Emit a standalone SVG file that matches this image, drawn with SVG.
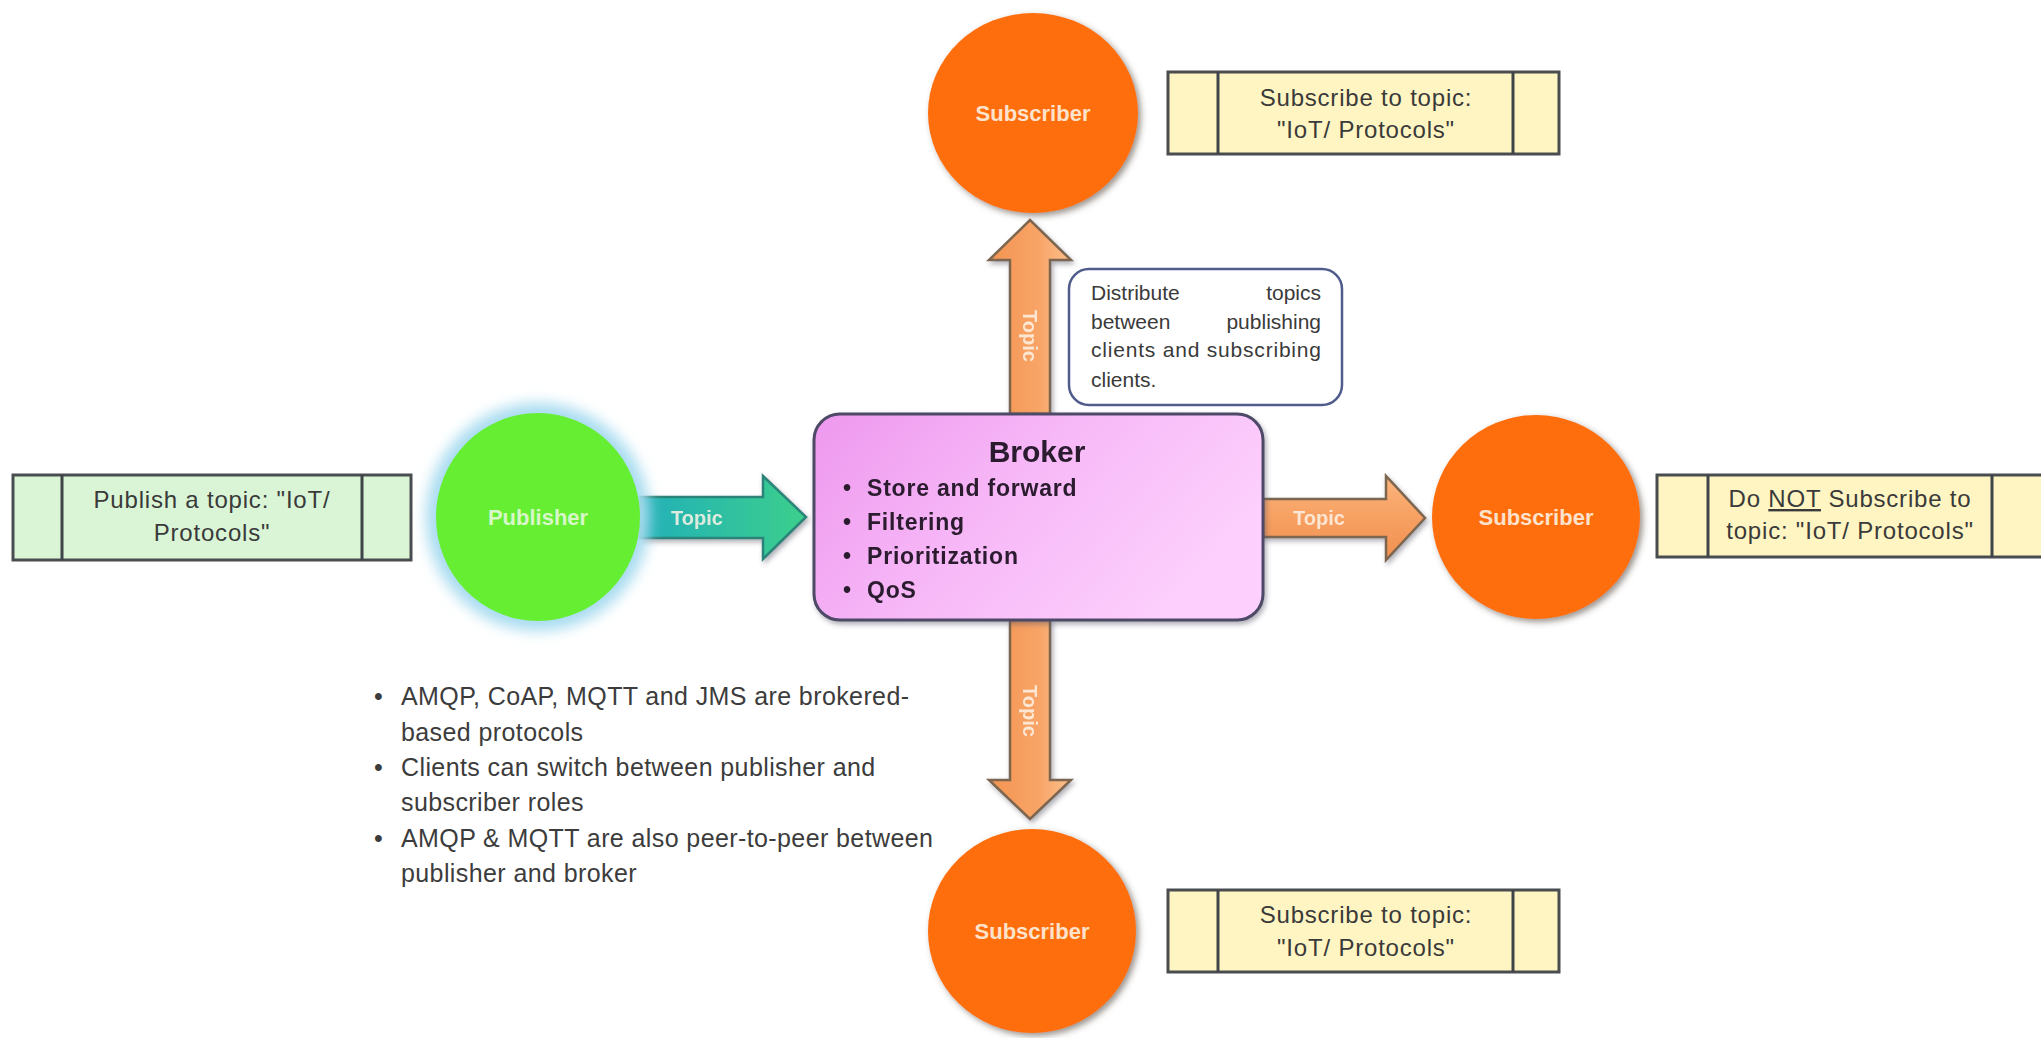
<svg xmlns="http://www.w3.org/2000/svg" width="2041" height="1038" viewBox="0 0 2041 1038">
  <defs>
    <style>
      .box { stroke: #4a4d4f; stroke-width: 3; }
      .green-box { fill: #d9f5d6; }
      .yellow-box { fill: #fff5c2; }
      .divider { stroke: #3f4448; stroke-width: 3; }
      .boxtxt { font-family: "Liberation Sans", Arial, sans-serif; font-size: 24px; letter-spacing: 0.8px; fill: #3a3a3a; text-anchor: middle; }
      .circle-label { font-family: "Liberation Sans", Arial, sans-serif; font-weight: bold; font-size: 22px; text-anchor: middle; }
      .arrow-label { font-family: "Liberation Sans", Arial, sans-serif; font-weight: bold; font-size: 20px; fill: #fdf3e8; fill-opacity: 0.85; text-anchor: middle; }
      .orange-arrow { stroke: #7d6650; stroke-width: 2.5; stroke-linejoin: miter; }
      .broker-item { font-family: "Liberation Sans", Arial, sans-serif; font-weight: bold; font-size: 23px; letter-spacing: 0.8px; fill: #2a1a2e; }
      .note { font-family: "Liberation Sans", Arial, sans-serif; font-size: 21px; fill: #3a3a3a; }
      .list { font-family: "Liberation Sans", Arial, sans-serif; font-size: 25px; letter-spacing: 0.4px; fill: #3c3c3c; }
    </style>
    <linearGradient id="brokerFill" x1="0" y1="0" x2="1" y2="0.4">
      <stop offset="0" stop-color="#ee98ee"/>
      <stop offset="0.5" stop-color="#f7b8f7"/>
      <stop offset="1" stop-color="#fccffc"/>
    </linearGradient>
    <linearGradient id="tealFill" x1="0" y1="0" x2="1" y2="0">
      <stop offset="0" stop-color="#22b0b8"/>
      <stop offset="1" stop-color="#3ccf8c"/>
    </linearGradient>
    <linearGradient id="orangeH" x1="0" y1="0" x2="0" y2="1">
      <stop offset="0" stop-color="#fbb57c"/>
      <stop offset="0.5" stop-color="#f7a062"/>
      <stop offset="1" stop-color="#f0904f"/>
    </linearGradient>
    <linearGradient id="orangeV" x1="0" y1="0" x2="1" y2="0">
      <stop offset="0" stop-color="#f39452"/>
      <stop offset="0.6" stop-color="#f8a466"/>
      <stop offset="1" stop-color="#fcc08c"/>
    </linearGradient>
    <filter id="glow" x="-30%" y="-30%" width="160%" height="160%">
      <feGaussianBlur stdDeviation="7"/>
    </filter>
    <filter id="shadow" x="-20%" y="-20%" width="140%" height="140%">
      <feDropShadow dx="3" dy="3" stdDeviation="3" flood-color="#4a3a30" flood-opacity="0.55"/>
    </filter>
    <filter id="softShadow" x="-10%" y="-10%" width="120%" height="130%">
      <feDropShadow dx="2" dy="3" stdDeviation="2.5" flood-color="#505060" flood-opacity="0.45"/>
    </filter>
  </defs>

  <rect x="0" y="0" width="2041" height="1038" fill="#ffffff"/>

  <!-- block arrows between the clients and the broker -->
  <g id="connectors">
    <g id="arrow-publisher-broker" filter="url(#softShadow)">
      <path d="M640,497 H763 V476 L806,517 L763,559 V538 H640 Z" fill="url(#tealFill)" stroke="#2b8479" stroke-width="2.5"/>
      <text class="arrow-label" x="697" y="525">Topic</text>
    </g>
    <g id="arrow-broker-right" filter="url(#softShadow)">
      <path d="M1263,499 H1386 V476 L1425,518 L1386,560 V537 H1263 Z" class="orange-arrow" fill="url(#orangeH)"/>
      <text class="arrow-label" x="1319" y="525">Topic</text>
    </g>
    <g id="arrow-broker-top" filter="url(#softShadow)">
      <path d="M1010,414 V260 H989 L1030,220 L1071,260 H1050 V414 Z" class="orange-arrow" fill="url(#orangeV)"/>
      <text class="arrow-label" transform="translate(1023,336) rotate(90)">Topic</text>
    </g>
    <g id="arrow-broker-bottom" filter="url(#softShadow)">
      <path d="M1010,620 V780 H989 L1030,819 L1071,780 H1050 V620 Z" class="orange-arrow" fill="url(#orangeV)"/>
      <text class="arrow-label" transform="translate(1023,711) rotate(90)">Topic</text>
    </g>
  </g>

  <!-- publisher side -->
  <g id="publish-note">
    <rect class="box green-box" x="13" y="475" width="398" height="85"/>
    <line class="divider" x1="62" y1="475" x2="62" y2="560"/>
    <line class="divider" x1="362" y1="475" x2="362" y2="560"/>
    <text class="boxtxt" x="212" y="508">Publish a topic: "IoT/</text>
    <text class="boxtxt" x="212" y="541">Protocols"</text>
  </g>

  <g id="publisher">
    <ellipse cx="538" cy="517" rx="112" ry="114" fill="#a8dcf0" filter="url(#glow)"/>
    <ellipse cx="538" cy="517" rx="102" ry="104" fill="#66ee33"/>
    <text class="circle-label" x="538" y="525" fill="#d8f7c8">Publisher</text>
  </g>

  <!-- broker -->
  <g id="broker" filter="url(#softShadow)">
    <rect x="814" y="414" width="449" height="206" rx="26" fill="url(#brokerFill)" stroke="#4d4a66" stroke-width="3"/>
    <text x="1037" y="462" font-family="'Liberation Sans', Arial, sans-serif" font-weight="bold" font-size="30" fill="#2a1a2e" text-anchor="middle">Broker</text>
    <text class="broker-item" x="843" y="496">•</text>
    <text class="broker-item" x="867" y="496">Store and forward</text>
    <text class="broker-item" x="843" y="530">•</text>
    <text class="broker-item" x="867" y="530">Filtering</text>
    <text class="broker-item" x="843" y="564">•</text>
    <text class="broker-item" x="867" y="564">Prioritization</text>
    <text class="broker-item" x="843" y="598">•</text>
    <text class="broker-item" x="867" y="598">QoS</text>
  </g>

  <g id="broker-note">
    <rect x="1069" y="269" width="273" height="136" rx="20" fill="#ffffff" stroke="#4f5c8c" stroke-width="2.5"/>
    <text class="note" x="1091" y="300">Distribute</text>
    <text class="note" x="1321" y="300" text-anchor="end">topics</text>
    <text class="note" x="1091" y="329">between</text>
    <text class="note" x="1321" y="329" text-anchor="end">publishing</text>
    <text class="note" x="1091" y="357" textLength="230" lengthAdjust="spacing">clients and subscribing</text>
    <text class="note" x="1091" y="387">clients.</text>
  </g>

  <!-- subscribers -->
  <g id="subscriber-top">
    <ellipse cx="1033" cy="113" rx="105" ry="100" fill="#ff6e0e" filter="url(#shadow)"/>
    <text class="circle-label" x="1033" y="121" fill="#fde2cc">Subscriber</text>
  </g>
  <g id="subscribe-note-top">
    <rect class="box yellow-box" x="1168" y="72" width="391" height="82"/>
    <line class="divider" x1="1218" y1="72" x2="1218" y2="154"/>
    <line class="divider" x1="1513" y1="72" x2="1513" y2="154"/>
    <text class="boxtxt" x="1366" y="106">Subscribe to topic:</text>
    <text class="boxtxt" x="1366" y="138">"IoT/ Protocols"</text>
  </g>

  <g id="subscriber-right">
    <ellipse cx="1536" cy="517" rx="104" ry="102" fill="#ff6e0e" filter="url(#shadow)"/>
    <text class="circle-label" x="1536" y="525" fill="#fde2cc">Subscriber</text>
  </g>
  <g id="no-subscribe-note">
    <rect class="box yellow-box" x="1657" y="475" width="400" height="82"/>
    <line class="divider" x1="1708" y1="475" x2="1708" y2="557"/>
    <line class="divider" x1="1992" y1="475" x2="1992" y2="557"/>
    <text class="boxtxt" x="1850" y="507">Do <tspan text-decoration="underline">NOT</tspan> Subscribe to</text>
    <text class="boxtxt" x="1850" y="539">topic: "IoT/ Protocols"</text>
  </g>

  <g id="subscriber-bottom">
    <ellipse cx="1032" cy="931" rx="104" ry="102" fill="#ff6e0e" filter="url(#shadow)"/>
    <text class="circle-label" x="1032" y="939" fill="#fde2cc">Subscriber</text>
  </g>
  <g id="subscribe-note-bottom">
    <rect class="box yellow-box" x="1168" y="890" width="391" height="82"/>
    <line class="divider" x1="1218" y1="890" x2="1218" y2="972"/>
    <line class="divider" x1="1513" y1="890" x2="1513" y2="972"/>
    <text class="boxtxt" x="1366" y="923">Subscribe to topic:</text>
    <text class="boxtxt" x="1366" y="956">"IoT/ Protocols"</text>
  </g>

  <!-- remarks on brokered protocols -->
  <g id="protocol-notes">
    <text class="list" x="374" y="705">•</text>
    <text class="list" x="401" y="705">AMQP, CoAP, MQTT and JMS are brokered-</text>
    <text class="list" x="401" y="741">based protocols</text>
    <text class="list" x="374" y="776">•</text>
    <text class="list" x="401" y="776">Clients can switch between publisher and</text>
    <text class="list" x="401" y="811">subscriber roles</text>
    <text class="list" x="374" y="847">•</text>
    <text class="list" x="401" y="847">AMQP &amp; MQTT are also peer-to-peer between</text>
    <text class="list" x="401" y="882">publisher and broker</text>
  </g>
</svg>
